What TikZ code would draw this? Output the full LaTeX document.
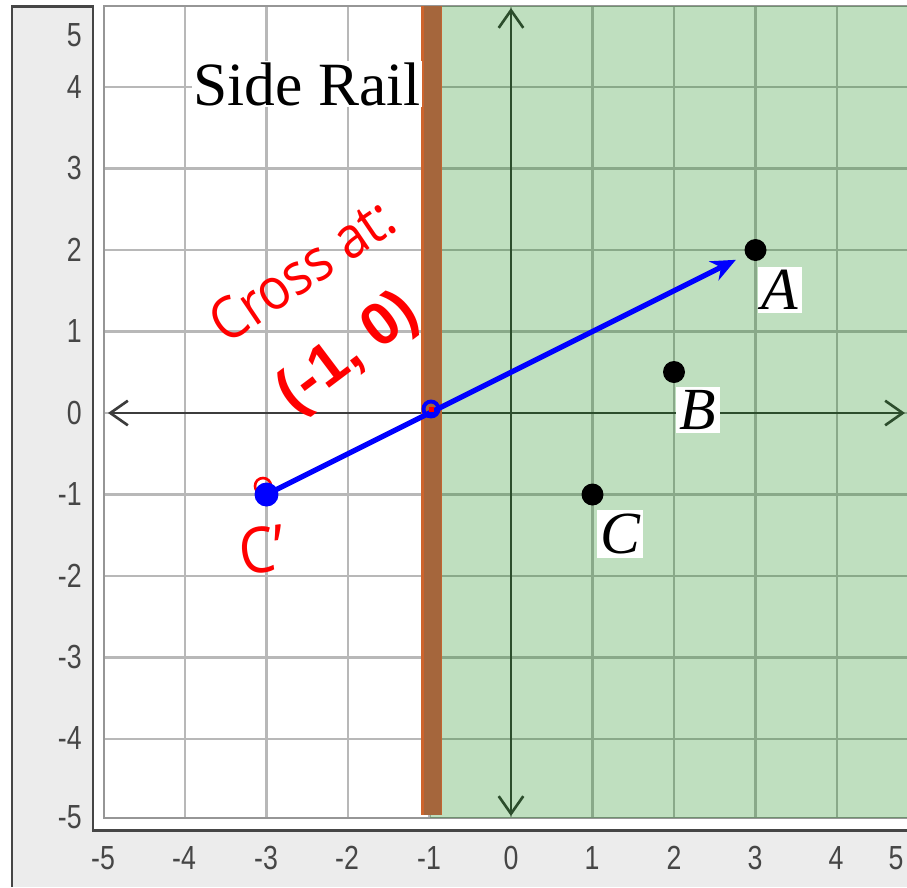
\documentclass[tikz,border=0pt]{standalone}
\usepackage{fontspec}
\setmainfont{Liberation Serif}
\newfontfamily\tickfont[FakeStretch=0.8]{Liberation Sans}
\newfontfamily\handfont[FakeStretch=0.9]{Open Sans}
\newfontfamily\boldsans{Liberation Sans}
\usetikzlibrary{arrows.meta}
\definecolor{panelgray}{RGB}{236,236,236}
\definecolor{framedark}{RGB}{70,70,70}
\definecolor{gridgray}{RGB}{184,184,184}
\definecolor{axisgray}{RGB}{60,60,60}
\definecolor{ticktext}{RGB}{70,70,70}
\definecolor{plotframe}{RGB}{150,150,150}
\definecolor{railbrown}{RGB}{165,102,60}
\definecolor{railorange}{RGB}{205,100,45}
\definecolor{overlaygreen}{RGB}{0,128,0}
\definecolor{handred}{RGB}{255,0,0}
\begin{document}
\begin{tikzpicture}[x=0.02cm,y=-0.02cm,
  gridline/.style={gridgray, line width=1.5pt},
  axisline/.style={axisgray, line width=1.5pt, {Straight Barb[length=10pt,width=14pt]}-{Straight Barb[length=10pt,width=14pt]}},
  ptdot/.style={circle, fill=black, minimum size=0.44cm, inner sep=0pt},
  ptlab/.style={fill=white, inner sep=2pt, font=\fontsize{34}{36}\selectfont\itshape},
  ticklab/.style={text=ticktext, inner sep=0pt, font=\tickfont\fontsize{19}{20}\selectfont}]
\useasboundingbox (0,0) rectangle (907,887);
\clip (0,0) rectangle (907,887);
\fill[white] (0,0) rectangle (907,887);
% panels
\fill[panelgray] (12,6) rectangle (93,887);
\fill[panelgray] (93,830) rectangle (907,887);
\draw[framedark, line width=1.7pt] (12,887) -- (12,6) -- (93,6) -- (93,830) -- (910,830);
% grid
\foreach \i in {-4,...,5} {\draw[gridline] ({511+81.5*\i},6) -- ({511+81.5*\i},818);}
\foreach \j in {-4,...,4} {\draw[gridline] (104,{413-81.5*\j}) -- (910,{413-81.5*\j});}
% axes
\draw[axisline] (108,413) -- (905,413);
\draw[axisline] (511,8) -- (511,816);
% plot frame
\draw[plotframe, line width=1.6pt] (104,6) rectangle (925,818);
% green region
\fill[overlaygreen, fill opacity=0.25] (430,6) rectangle (910,818);
% side rail
\fill[railbrown] (422,6) rectangle (442,815);
\draw[railorange, line width=1.4pt] (422.5,6) -- (422.5,815);
\draw[railorange!70!railbrown, line width=1pt] (441.5,6) -- (441.5,815);
\node[fill=white, inner sep=1pt, font=\fontsize{35}{40}\selectfont] (siderail) at (307,84) {Side Rail};
% tick labels
\foreach \v/\yy in {5/35,4/87,3/168,2/250,1/331,0/413,-1/494,-2/576,-3/657,-4/738,-5/817}
  {\node[ticklab, anchor=east] (yl\v) at (82,\yy) {\v};}
\foreach \v/\xx in {-5/103,-4/184,-3/266,-2/347,-1/429,0/511,1/592,2/674,3/755,4/836,5/896}
  {\node[ticklab] (xl\v) at (\xx,858) {\v};}
% points
\node[ptdot] (A) at (755.5,250) {};
\node[ptdot] (B) at (674,372) {};
\node[ptdot] (C) at (592.5,494.5) {};
\node[ptlab] (Alab) at (780,290) {A};
\node[ptlab] (Blab) at (698,410) {B};
\node[ptlab] (Clab) at (620,534) {C};
% C' and arrow
\draw[handred, line width=1.5pt] (263,486) circle (0.16cm);
\node[circle, fill=blue, minimum size=0.48cm, inner sep=0pt] (Cp) at (266.5,494.5) {};
\draw[blue, line width=3pt, -{Stealth[length=14pt,width=12pt]}, shorten >=6pt] (Cp.center) -- (A);
\node[circle, draw=blue, line width=2.2pt, minimum size=0.3cm, inner sep=0pt] (X) at (431,409) {};
\fill[handred] (429,407) rectangle (434,412);
% handwritten notes
\node[text=handred, rotate=34, font=\handfont\fontsize{33}{33}\selectfont] (cross) at (302,270) {Cross at:};
\node[text=handred, rotate=37, font=\boldsans\bfseries\fontsize{34}{34}\selectfont] (coord) at (349,354) {(-1, 0)};
\node[text=handred, rotate=8, font=\handfont\fontsize{36}{36}\selectfont] (cplab) at (262,550) {C’};
\end{tikzpicture}
\end{document}
